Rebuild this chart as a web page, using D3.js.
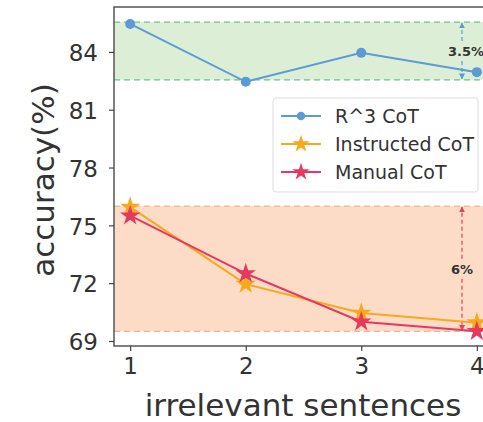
<!DOCTYPE html>
<html>
<head>
<meta charset="utf-8">
<script src="https://cdn.jsdelivr.net/npm/d3@7"></script>
<style>
  body { margin: 0; background: #fff; }
  svg { display: block; font-family: "DejaVu Sans", sans-serif; }
</style>
</head>
<body>
<div id="chart"></div>
<script>
// data
var sentences = [1, 2, 3, 4];
var r3Cot = [85.45, 82.45, 83.95, 82.95];
var instructedCot = [75.95, 71.95, 70.45, 69.95];
var manualCot = [75.5, 72.5, 70.0, 69.5];
var yTicks = [69, 72, 75, 78, 81, 84];
var greenBand = [82.55, 85.55];
var orangeBand = [69.5, 76.0];
var gapLabels = ["3.5%", "6%"];

var svgWidth = 483;
var svgHeight = 422;

var margin = { top: 7, left: 114 };
var plotRight = 493;   // the original figure is cut off on the right
var plotBottom = 346;

var svg = d3.select("#chart")
  .append("svg")
  .attr("width", svgWidth)
  .attr("height", svgHeight);

var x = d3.scaleLinear().domain([0.86, 4.14]).range([margin.left, plotRight]);
var y = d3.scaleLinear().domain([68.74, 86.33]).range([plotBottom, margin.top]);

// shaded bands
function band(range, fill, stroke) {
  svg.append("rect")
    .attr("x", margin.left)
    .attr("y", y(range[1]))
    .attr("width", plotRight - margin.left)
    .attr("height", y(range[0]) - y(range[1]))
    .attr("fill", fill);
  range.forEach(function(v) {
    svg.append("line")
      .attr("x1", margin.left).attr("x2", plotRight)
      .attr("y1", y(v)).attr("y2", y(v))
      .attr("stroke", stroke)
      .attr("stroke-width", 1.3)
      .attr("stroke-dasharray", "6,4");
  });
}
band(greenBand, "#dcefd6", "#6cc28a");
band(orangeBand, "#fcdcc6", "#f4b490");

// gap arrows
var arrowX = 462;
var defs = svg.append("defs");
function arrowMarker(id, color) {
  defs.append("marker")
    .attr("id", id)
    .attr("viewBox", "0 0 10 10")
    .attr("refX", 9).attr("refY", 5)
    .attr("markerWidth", 5).attr("markerHeight", 5)
    .attr("orient", "auto-start-reverse")
    .append("path")
    .attr("d", "M0,0 L10,5 L0,10 z")
    .attr("fill", color);
}
arrowMarker("arrBlue", "#5b9bd5");
arrowMarker("arrRed", "#e0405e");

function gapArrow(range, color, markerId, label, textX) {
  var y0 = y(range[1]), y1 = y(range[0]);
  var mid = (y0 + y1) / 2;
  svg.append("line")
    .attr("x1", arrowX).attr("x2", arrowX)
    .attr("y1", mid - 10).attr("y2", y0 + 1)
    .attr("stroke", color).attr("stroke-width", 1.2)
    .attr("stroke-dasharray", "4,3")
    .attr("marker-end", "url(#" + markerId + ")");
  svg.append("line")
    .attr("x1", arrowX).attr("x2", arrowX)
    .attr("y1", mid + 10).attr("y2", y1 - 1)
    .attr("stroke", color).attr("stroke-width", 1.2)
    .attr("stroke-dasharray", "4,3")
    .attr("marker-end", "url(#" + markerId + ")");
  svg.append("text")
    .attr("x", textX)
    .attr("y", mid + 5)
    .attr("font-size", 13)
    .attr("font-weight", "bold")
    .attr("fill", "#333")
    .text(label);
}
gapArrow(greenBand, "#5b9bd5", "arrBlue", gapLabels[0], 448);
gapArrow(orangeBand, "#e0405e", "arrRed", gapLabels[1], 451);

// lines
var line = d3.line().x(function(d, i) { return x(sentences[i]); }).y(function(d) { return y(d); });

var star = d3.symbol().type(d3.symbolStar);

var series = [
  { name: "R^3 CoT", values: r3Cot, color: "#5b9bd5", marker: "circle" },
  { name: "Instructed CoT", values: instructedCot, color: "#f7a81b", marker: "star" },
  { name: "Manual CoT", values: manualCot, color: "#e5395f", marker: "star" }
];

function drawMarker(g, s, cx, cy, scale) {
  if (s.marker === "circle") {
    g.append("circle").attr("cx", cx).attr("cy", cy).attr("r", 5 * scale).attr("fill", s.color);
  } else {
    g.append("path")
      .attr("d", star.size(130 * scale * scale)())
      .attr("transform", "translate(" + cx + "," + cy + ")")
      .attr("fill", s.color);
  }
}

series.forEach(function(s) {
  svg.append("path")
    .datum(s.values)
    .attr("d", line)
    .attr("fill", "none")
    .attr("stroke", s.color)
    .attr("stroke-width", 2);
  var g = svg.append("g");
  s.values.forEach(function(v, i) {
    drawMarker(g, s, x(sentences[i]), y(v), 1);
  });
});

// frame
svg.append("rect")
  .attr("x", margin.left).attr("y", margin.top)
  .attr("width", plotRight - margin.left)
  .attr("height", plotBottom - margin.top)
  .attr("fill", "none")
  .attr("stroke", "#555")
  .attr("stroke-width", 1.5);

// axes
var leftAxis = d3.axisLeft(y).tickValues(yTicks).tickSize(5).tickPadding(11);
var bottomAxis = d3.axisBottom(x).tickValues(sentences).tickSize(5).tickPadding(7).tickFormat(d3.format("d"));

var yAxis = svg.append("g").attr("transform", "translate(" + margin.left + ",0)").call(leftAxis);
var xAxis = svg.append("g").attr("transform", "translate(0," + plotBottom + ")").call(bottomAxis);

[xAxis, yAxis].forEach(function(a) {
  a.select(".domain").remove();
  a.selectAll(".tick line").attr("stroke", "#444").attr("stroke-width", 1.2);
  a.selectAll(".tick text").attr("font-size", 23).attr("fill", "#333").attr("font-family", "DejaVu Sans");
});
yAxis.selectAll(".tick text").attr("dy", "0.38em");

svg.append("text")
  .attr("x", 303)
  .attr("y", 416)
  .attr("text-anchor", "middle")
  .attr("font-size", 31)
  .attr("fill", "#333")
  .text("irrelevant sentences");

svg.append("text")
  .attr("transform", "rotate(-90)")
  .attr("x", -180)
  .attr("y", 54)
  .attr("text-anchor", "middle")
  .attr("font-size", 31)
  .attr("fill", "#333")
  .text("accuracy(%)");

// legend
var legend = svg.append("g").attr("transform", "translate(273,98)");
legend.append("rect")
  .attr("width", 205).attr("height", 94)
  .attr("rx", 3)
  .attr("fill", "#fff").attr("fill-opacity", 0.85)
  .attr("stroke", "#ddd");
series.forEach(function(s, i) {
  var ly = 18 + i * 28;
  legend.append("line")
    .attr("x1", 8).attr("x2", 48)
    .attr("y1", ly).attr("y2", ly)
    .attr("stroke", s.color).attr("stroke-width", 2);
  drawMarker(legend, s, 28, ly, 0.85);
  legend.append("text")
    .attr("x", 62).attr("y", ly + 7)
    .attr("font-size", 19)
    .attr("fill", "#333")
    .text(s.name);
});
</script>
</body>
</html>
